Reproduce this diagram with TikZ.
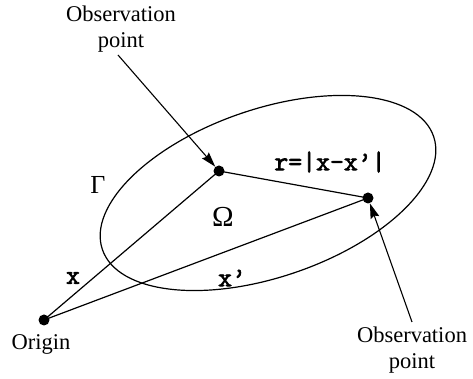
\documentclass[tikz,border=0pt]{standalone}
\usepackage{fontspec}
\setmainfont{Liberation Serif}
\setmonofont{Latin Modern Mono}[FakeBold=2.5]
\usetikzlibrary{arrows.meta}
\begin{document}
\begin{tikzpicture}[x=1pt,y=1pt,
  dot/.style={circle,fill=black,inner sep=0pt,minimum size=11pt},
  lbl/.style={font=\fontsize{22.5}{26}\selectfont,align=center,inner sep=0pt},
  greek/.style={inner sep=0pt},
  code/.style={font=\ttfamily\fontsize{27}{30}\selectfont,inner sep=0pt},
  ln/.style={line width=1.2pt},
  pointer/.style={line width=1.1pt,-{Stealth[length=15pt,width=9pt,inset=2pt]}}]
\useasboundingbox (0,0) rectangle (473,379);
\draw[ln] (268,186) ellipse[x radius=175,y radius=84,rotate=18.85];
\node[dot] (o) at (44,59) {};
\node[dot] (p1) at (219,208) {};
\node[dot] (p2) at (368,181) {};
\draw[ln] (o.center) -- (p1.center);
\draw[ln] (o.center) -- (p2.center);
\draw[ln] (p1.center) -- (p2.center);
\node[lbl] (t1) at (121,350) {Observation\\point};
\node[lbl] (t2) at (412,29) {Observation\\point};
\node[lbl] (orig) at (41,35) {Origin};
\coordinate (a1) at (118,324);
\coordinate (a2) at (412,57);
\draw[pointer] (a1) -- (p1);
\draw[pointer] (a2) -- (p2);
\node[greek,font=\fontsize{26}{28}\selectfont] (gam) at (98,194) {Γ};
\node[greek,font=\fontsize{29}{30}\selectfont] (om) at (223,162) {Ω};
\node[code] (x) at (73,101) {x};
\node[code] (xp) at (232,101) {x’};
\node[code] (r) at (330,217) {r=|x-x’|};
\end{tikzpicture}
\end{document}
